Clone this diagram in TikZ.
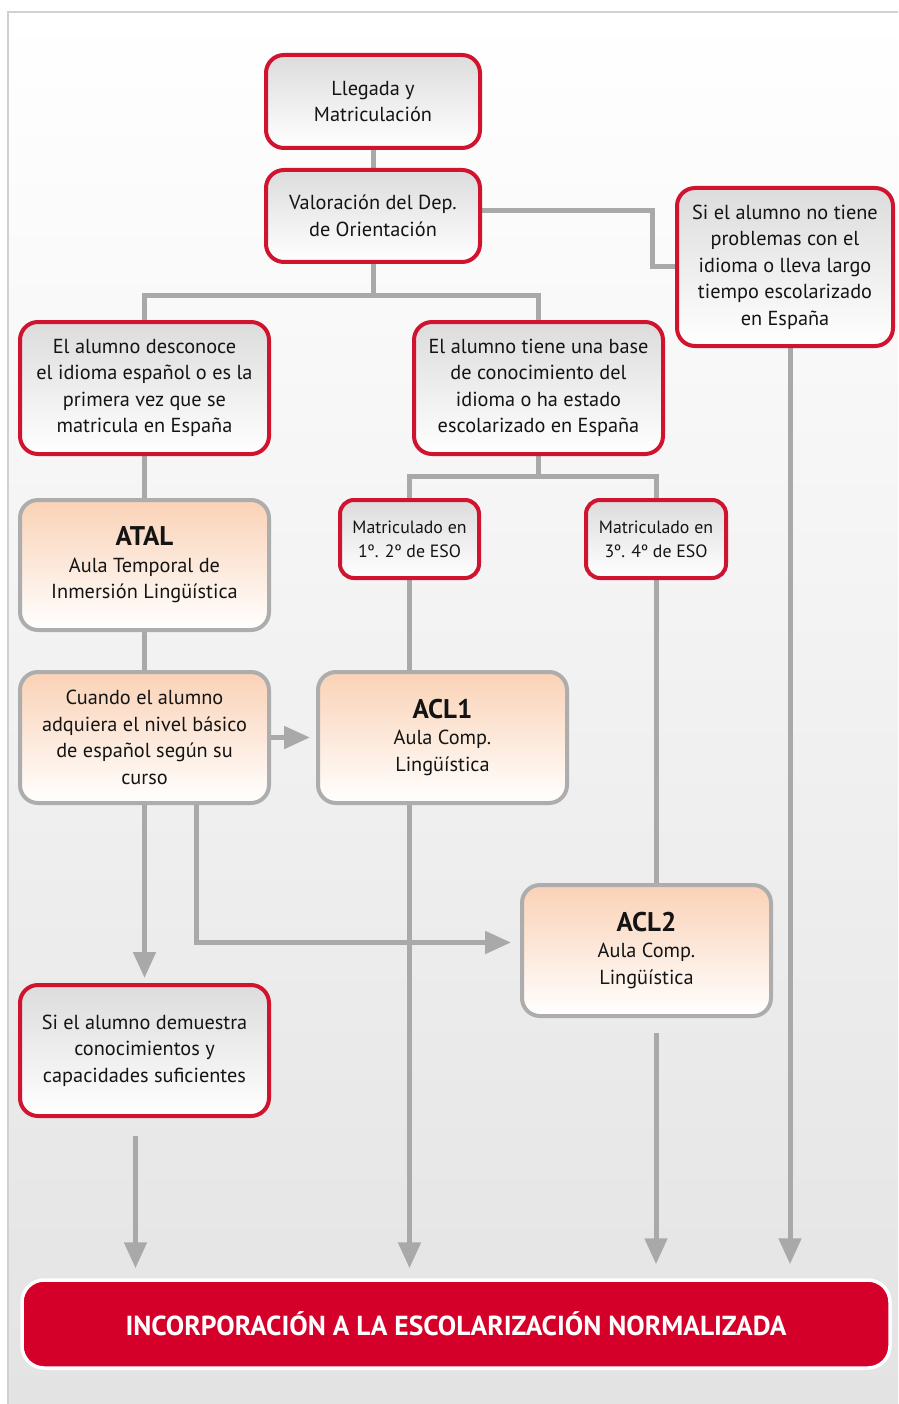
\documentclass[tikz,border=0pt]{standalone}
\usepackage{fontspec}
\setmainfont{PT Sans}
\usetikzlibrary{arrows.meta}
\definecolor{rd}{HTML}{D0132F}
\definecolor{barred}{HTML}{D4002A}
\definecolor{ln}{HTML}{A9A9A9}
\definecolor{gb}{HTML}{ADADAD}
\definecolor{peach}{HTML}{FAD2B6}
\definecolor{topgray}{HTML}{DCDCDC}
\definecolor{txt}{HTML}{141414}
\pgfdeclarelayer{bg}
\pgfdeclarelayer{mid}
\pgfsetlayers{bg,mid,main}
\tikzset{
  fs/.style={font=\fontsize{20.3}{26.5}\selectfont},
  basebox/.style={line width=4pt, rounded corners=18pt, align=center, inner sep=0pt, text=txt, fs},
  redbox/.style={basebox, draw=rd, top color=topgray, bottom color=white},
  peachbox/.style={basebox, draw=gb, top color=peach, bottom color=white},
  smallred/.style={redbox, rounded corners=14pt, font=\fontsize{17.8}{24}\selectfont},
  conn/.style={draw=ln, line width=5pt},
  arr/.style={conn, -{Triangle[width=22pt,length=26pt]}}
}
\newcommand{\ttl}[1]{{\fontsize{27}{30}\selectfont\bfseries #1}}
\begin{document}
\begin{tikzpicture}[x=1pt,y=-1pt]
\useasboundingbox (0,0) rectangle (898,1404);
\begin{pgfonlayer}{bg}
\fill[white] (0,0) rectangle (898,1404);
\shade[top color=white, bottom color=black!11] (8,12) rectangle (898,1404);
\draw[black!18, line width=1.2pt] (8,1404) -- (8,12) -- (898,12);
\end{pgfonlayer}

% nodes
\node[redbox, minimum width=214pt, minimum height=93pt] (ll) at (373,101.5) {Llegada y\\Matriculación};
\node[redbox, minimum width=214pt, minimum height=92pt] (va) at (373,216) {Valoración del Dep.\\de Orientación};
\node[redbox, minimum width=216pt, minimum height=158pt] (si) at (785,267) {Si el alumno no tiene\\problemas con el\\idioma o lleva largo\\tiempo escolarizado\\en España};
\node[redbox, minimum width=249pt, minimum height=132pt] (de) at (144.5,388) {El alumno desconoce\\el idioma español o es la\\primera vez que se\\matricula en España};
\node[redbox, minimum width=249pt, minimum height=132pt] (ba) at (538.5,388) {El alumno tiene una base\\de conocimiento del\\idioma o ha estado\\escolarizado en España};
\node[peachbox, minimum width=249pt, minimum height=130pt] (at) at (144.5,565) {\ttl{ATAL}\\Aula Temporal de\\Inmersión Lingüística};
\node[smallred, minimum width=139pt, minimum height=78pt] (m1) at (409.5,539) {Matriculado en\\1º. 2º de ESO};
\node[smallred, minimum width=140pt, minimum height=78pt] (m3) at (656,539) {Matriculado en\\3º. 4º de ESO};
\node[peachbox, minimum width=249pt, minimum height=131pt] (cu) at (144.5,737.5) {Cuando el alumno\\adquiera el nivel básico\\de español según su\\curso};
\node[peachbox, minimum width=249pt, minimum height=131pt] (a1) at (442.5,737.5) {\ttl{ACL1}\\Aula Comp.\\Lingüística};
\node[peachbox, minimum width=249pt, minimum height=131pt] (a2) at (646.5,950.5) {\ttl{ACL2}\\Aula Comp.\\Lingüística};
\node[redbox, minimum width=249pt, minimum height=131pt] (sd) at (144.5,1050.5) {Si el alumno demuestra\\conocimientos y\\capacidades suficientes};
\node[draw=white, line width=3.5pt, fill=barred, rounded corners=22pt, minimum width=868pt, minimum height=88pt, inner sep=0pt, text=white, font=\fontsize{27.5}{30}\selectfont\bfseries] (bar) at (456,1324) {INCORPORACIÓN A LA ESCOLARIZACIÓN NORMALIZADA};

% connectors
\begin{pgfonlayer}{mid}
\draw[conn] (ll.south) -- (va.north);
\draw[conn] ([yshift=5pt]va.east) -- (652,211) |- (si.west);
\draw[conn] (va.south) -- (373,296);
\draw[conn] (de.north) |- (373,296) -| (ba.north);
\draw[conn] (de.south) -- (at.north);
\draw[conn] (ba.south) -- (538.5,476);
\draw[conn] (m1.north) |- (538.5,476) -| (m3.north);
\draw[conn] (at.south) -- (cu.north);
\draw[conn] (m1.south) -- (m1.south |- a1.north);
\draw[conn] (m3.south) -- (m3.south |- a2.north);
\draw[arr, shorten >=6pt] (cu.east) -- (a1.west);
\draw[arr, shorten >=5pt] (cu.south) -- (sd.north);
\draw[arr, shorten >=9pt] ([xshift=52pt]cu.south) |- ([yshift=8pt]a2.west);
\draw[arr, shorten >=10pt] (a1.south -| m1.south) -- (bar.north -| m1.south);
\draw[arr, shorten <=18pt, shorten >=10pt] ([xshift=-9pt]sd.south) -- ([xshift=-9pt]sd.south |- bar.north);
\draw[arr, shorten <=15pt, shorten >=14pt] (a2.south -| m3.south) -- (bar.north -| m3.south);
\draw[arr, shorten >=14pt] ([xshift=5pt]si.south) -- ([xshift=5pt]si.south |- bar.north);
\end{pgfonlayer}
\end{tikzpicture}
\end{document}
